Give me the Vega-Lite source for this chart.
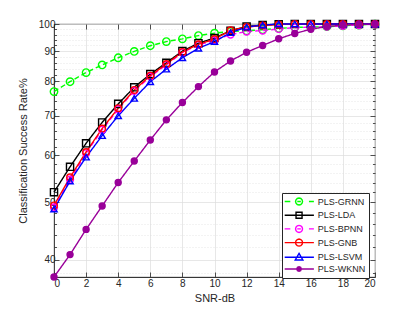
{
  "$schema": "https://vega.github.io/schema/vega-lite/v6.json",
  "width": 321,
  "height": 253,
  "autosize": "none",
  "padding": {"left": 54, "top": 24, "right": 40, "bottom": 35},
  "background": "white",
  "config": {
    "font": "Liberation Sans",
    "view": {"stroke": "#262626", "strokeWidth": 0.8},
    "axis": {
      "labelFont": "Liberation Sans",
      "titleFont": "Liberation Sans",
      "labelFontSize": 10,
      "titleFontSize": 11,
      "titleFontWeight": "normal",
      "labelColor": "#262626",
      "titleColor": "#262626",
      "tickColor": "#262626",
      "domainColor": "#262626",
      "gridColor": "#dcdcdc",
      "gridWidth": 0.7,
      "domainWidth": 0.8,
      "tickWidth": 0.8
    },
    "legend": {
      "labelFont": "Liberation Sans",
      "labelFontSize": 9,
      "labelColor": "#262626",
      "orient": "none", "legendX": 228, "legendY": 169,
      "symbolOpacity": 1, "symbolStrokeWidth": 1.4, "symbolSize": 81,
      "strokeColor": "#262626", "fillColor": "white", "padding": 3,
      "rowPadding": 0.7, "labelOffset": 21.7
    }
  },
  "data": {
    "values": [
      {"snr":0,"series":"PLS-GRNN","rate":76.9},{"snr":1,"series":"PLS-GRNN","rate":79.9},{"snr":2,"series":"PLS-GRNN","rate":82.8},{"snr":3,"series":"PLS-GRNN","rate":85.3},{"snr":4,"series":"PLS-GRNN","rate":87.7},{"snr":5,"series":"PLS-GRNN","rate":89.9},{"snr":6,"series":"PLS-GRNN","rate":91.9},{"snr":7,"series":"PLS-GRNN","rate":93.4},{"snr":8,"series":"PLS-GRNN","rate":94.4},{"snr":9,"series":"PLS-GRNN","rate":95.6},{"snr":10,"series":"PLS-GRNN","rate":96.5},{"snr":11,"series":"PLS-GRNN","rate":97.1},{"snr":12,"series":"PLS-GRNN","rate":97.4},{"snr":13,"series":"PLS-GRNN","rate":97.8},{"snr":14,"series":"PLS-GRNN","rate":98.3},{"snr":15,"series":"PLS-GRNN","rate":98.7},{"snr":16,"series":"PLS-GRNN","rate":98.8},{"snr":17,"series":"PLS-GRNN","rate":99.0},{"snr":18,"series":"PLS-GRNN","rate":99.3},{"snr":19,"series":"PLS-GRNN","rate":99.6},{"snr":20,"series":"PLS-GRNN","rate":99.9},
      {"snr":0,"series":"PLS-LDA","rate":52.0},{"snr":1,"series":"PLS-LDA","rate":57.4},{"snr":2,"series":"PLS-LDA","rate":62.9},{"snr":3,"series":"PLS-LDA","rate":68.2},{"snr":4,"series":"PLS-LDA","rate":73.3},{"snr":5,"series":"PLS-LDA","rate":78.2},{"snr":6,"series":"PLS-LDA","rate":82.3},{"snr":7,"series":"PLS-LDA","rate":86.0},{"snr":8,"series":"PLS-LDA","rate":90.0},{"snr":9,"series":"PLS-LDA","rate":92.8},{"snr":10,"series":"PLS-LDA","rate":94.7},{"snr":11,"series":"PLS-LDA","rate":97.4},{"snr":12,"series":"PLS-LDA","rate":99.0},{"snr":13,"series":"PLS-LDA","rate":99.6},{"snr":14,"series":"PLS-LDA","rate":99.9},{"snr":15,"series":"PLS-LDA","rate":100},{"snr":16,"series":"PLS-LDA","rate":100},{"snr":17,"series":"PLS-LDA","rate":100},{"snr":18,"series":"PLS-LDA","rate":100},{"snr":19,"series":"PLS-LDA","rate":100},{"snr":20,"series":"PLS-LDA","rate":100},
      {"snr":0,"series":"PLS-BPNN","rate":49.0},{"snr":1,"series":"PLS-BPNN","rate":54.6},{"snr":2,"series":"PLS-BPNN","rate":60.5},{"snr":3,"series":"PLS-BPNN","rate":66.3},{"snr":4,"series":"PLS-BPNN","rate":71.8},{"snr":5,"series":"PLS-BPNN","rate":77.1},{"snr":6,"series":"PLS-BPNN","rate":81.5},{"snr":7,"series":"PLS-BPNN","rate":85.3},{"snr":8,"series":"PLS-BPNN","rate":89.5},{"snr":9,"series":"PLS-BPNN","rate":92.2},{"snr":10,"series":"PLS-BPNN","rate":93.8},{"snr":11,"series":"PLS-BPNN","rate":96.0},{"snr":12,"series":"PLS-BPNN","rate":97.1},{"snr":13,"series":"PLS-BPNN","rate":97.5},{"snr":14,"series":"PLS-BPNN","rate":98.1},{"snr":15,"series":"PLS-BPNN","rate":98.6},{"snr":16,"series":"PLS-BPNN","rate":98.8},{"snr":17,"series":"PLS-BPNN","rate":99.0},{"snr":18,"series":"PLS-BPNN","rate":99.3},{"snr":19,"series":"PLS-BPNN","rate":99.6},{"snr":20,"series":"PLS-BPNN","rate":99.9},
      {"snr":0,"series":"PLS-GNB","rate":49.4},{"snr":1,"series":"PLS-GNB","rate":55.1},{"snr":2,"series":"PLS-GNB","rate":60.8},{"snr":3,"series":"PLS-GNB","rate":66.6},{"snr":4,"series":"PLS-GNB","rate":72.1},{"snr":5,"series":"PLS-GNB","rate":77.4},{"snr":6,"series":"PLS-GNB","rate":81.8},{"snr":7,"series":"PLS-GNB","rate":85.6},{"snr":8,"series":"PLS-GNB","rate":89.7},{"snr":9,"series":"PLS-GNB","rate":92.4},{"snr":10,"series":"PLS-GNB","rate":94.3},{"snr":11,"series":"PLS-GNB","rate":97.6},{"snr":12,"series":"PLS-GNB","rate":98.8},{"snr":13,"series":"PLS-GNB","rate":99.4},{"snr":14,"series":"PLS-GNB","rate":99.8},{"snr":15,"series":"PLS-GNB","rate":100},{"snr":16,"series":"PLS-GNB","rate":100},{"snr":17,"series":"PLS-GNB","rate":100},{"snr":18,"series":"PLS-GNB","rate":100},{"snr":19,"series":"PLS-GNB","rate":100},{"snr":20,"series":"PLS-GNB","rate":100},
      {"snr":0,"series":"PLS-LSVM","rate":48.7},{"snr":1,"series":"PLS-LSVM","rate":54.3},{"snr":2,"series":"PLS-LSVM","rate":59.6},{"snr":3,"series":"PLS-LSVM","rate":64.8},{"snr":4,"series":"PLS-LSVM","rate":70.0},{"snr":5,"series":"PLS-LSVM","rate":74.9},{"snr":6,"series":"PLS-LSVM","rate":79.9},{"snr":7,"series":"PLS-LSVM","rate":83.9},{"snr":8,"series":"PLS-LSVM","rate":87.7},{"snr":9,"series":"PLS-LSVM","rate":91.0},{"snr":10,"series":"PLS-LSVM","rate":93.4},{"snr":11,"series":"PLS-LSVM","rate":96.7},{"snr":12,"series":"PLS-LSVM","rate":98.8},{"snr":13,"series":"PLS-LSVM","rate":99.6},{"snr":14,"series":"PLS-LSVM","rate":100},{"snr":15,"series":"PLS-LSVM","rate":100},{"snr":16,"series":"PLS-LSVM","rate":100},{"snr":17,"series":"PLS-LSVM","rate":100},{"snr":18,"series":"PLS-LSVM","rate":100},{"snr":19,"series":"PLS-LSVM","rate":100},{"snr":20,"series":"PLS-LSVM","rate":100},
      {"snr":0,"series":"PLS-WKNN","rate":37.4},{"snr":1,"series":"PLS-WKNN","rate":40.8},{"snr":2,"series":"PLS-WKNN","rate":45.0},{"snr":3,"series":"PLS-WKNN","rate":49.3},{"snr":4,"series":"PLS-WKNN","rate":54.0},{"snr":5,"series":"PLS-WKNN","rate":58.7},{"snr":6,"series":"PLS-WKNN","rate":63.7},{"snr":7,"series":"PLS-WKNN","rate":68.9},{"snr":8,"series":"PLS-WKNN","rate":73.7},{"snr":9,"series":"PLS-WKNN","rate":78.4},{"snr":10,"series":"PLS-WKNN","rate":83.0},{"snr":11,"series":"PLS-WKNN","rate":86.6},{"snr":12,"series":"PLS-WKNN","rate":89.6},{"snr":13,"series":"PLS-WKNN","rate":92.0},{"snr":14,"series":"PLS-WKNN","rate":94.4},{"snr":15,"series":"PLS-WKNN","rate":96.4},{"snr":16,"series":"PLS-WKNN","rate":98.0},{"snr":17,"series":"PLS-WKNN","rate":99.0},{"snr":18,"series":"PLS-WKNN","rate":99.6},{"snr":19,"series":"PLS-WKNN","rate":99.9},{"snr":20,"series":"PLS-WKNN","rate":100}
    ]
  },
  "layer": [
    {
      "mark": {"type": "line", "strokeWidth": 1.4},
      "encoding": {
        "x": {"field": "snr", "type": "quantitative",
          "scale": {"domain": [0, 20], "nice": false},
          "axis": {"title": "SNR-dB", "values": [0,2,4,6,8,10,12,14,16,18,20], "tickSize": -5, "labelPadding": 6, "titlePadding": 4, "grid": true}},
        "y": {"field": "rate", "type": "quantitative",
          "scale": {"type": "log", "domain": [37.4, 100], "nice": false, "zero": false},
          "axis": {"title": "Classification Success Rate%",
            "values": [38,40,42,44,46,48,50,52,54,56,58,60,62,64,66,68,70,72,74,76,78,80,82,84,86,88,90,92,94,96,98,100],
            "labelExpr": "datum.value % 10 === 0 ? datum.label : ''",
            "grid": true,
            "gridDash": {"condition": {"test": "datum.value % 10 === 0", "value": []}, "value": [1, 2]},
            "tickSize": {"condition": {"test": "datum.value % 10 === 0", "value": -5}, "value": -2.5},
            "labelPadding": 4, "titlePadding": 10}},
        "color": {"field": "series", "type": "nominal",
          "scale": {"domain": ["PLS-GRNN","PLS-LDA","PLS-BPNN","PLS-GNB","PLS-LSVM","PLS-WKNN"], "range": ["#00ff00","#000000","#ff00ff","#ff0000","#0000ff","#990099"]},
          "legend": null},
        "strokeDash": {"field": "series", "type": "nominal",
          "scale": {"domain": ["PLS-GRNN","PLS-LDA","PLS-BPNN","PLS-GNB","PLS-LSVM","PLS-WKNN"], "range": [[5,3],[1,0],[5,3],[1,0],[1,0],[1,0]]},
          "legend": null}
      }
    },
    {
      "mark": {"type": "point", "filled": false, "strokeWidth": 1.4, "opacity": 1},
      "encoding": {
        "x": {"field": "snr", "type": "quantitative", "axis": null},
        "y": {"field": "rate", "type": "quantitative", "axis": null},
        "color": {"field": "series", "type": "nominal",
          "scale": {"domain": ["PLS-GRNN","PLS-LDA","PLS-BPNN","PLS-GNB","PLS-LSVM","PLS-WKNN"], "range": ["#00ff00","#000000","#ff00ff","#ff0000","#0000ff","#990099"]},
          "legend": null},
        "shape": {"field": "series", "type": "nominal",
          "scale": {"domain": ["PLS-GRNN","PLS-LDA","PLS-BPNN","PLS-GNB","PLS-LSVM","PLS-WKNN"], "range": ["circle","square","circle","circle","triangle-up","circle"]},
          "legend": null},
        "size": {"field": "series", "type": "nominal",
          "scale": {"domain": ["PLS-GRNN","PLS-LDA","PLS-BPNN","PLS-GNB","PLS-LSVM","PLS-WKNN"], "range": [55,36,55,49,50,22]},
          "legend": null},
        "fill": {"condition": {"test": "datum.series === 'PLS-WKNN'", "value": "#990099"}, "value": "transparent"}
      }
    },
    {
      "mark": {"type": "point", "filled": false, "opacity": 0},
      "encoding": {
        "x": {"field": "snr", "type": "quantitative",
          "axis": {"orient": "top", "title": null, "labels": false, "domain": false, "grid": false, "values": [0,2,4,6,8,10,12,14,16,18,20], "tickSize": -5}},
        "y": {"field": "rate", "type": "quantitative",
          "axis": {"orient": "right", "title": null, "labels": false, "domain": false, "grid": false,
            "values": [38,40,42,44,46,48,50,52,54,56,58,60,62,64,66,68,70,72,74,76,78,80,82,84,86,88,90,92,94,96,98,100],
            "tickSize": {"condition": {"test": "datum.value % 10 === 0", "value": -5}, "value": -2.5}}},
        "color": {"field": "series", "type": "nominal", "title": null,
          "scale": {"domain": ["PLS-GRNN","PLS-LDA","PLS-BPNN","PLS-GNB","PLS-LSVM","PLS-WKNN"], "range": ["#00ff00","#000000","#ff00ff","#ff0000","#0000ff","#990099"]},
          "legend": {"title": null}},
        "fill": {"field": "series", "type": "nominal", "title": null,
          "scale": {"domain": ["PLS-GRNN","PLS-LDA","PLS-BPNN","PLS-GNB","PLS-LSVM","PLS-WKNN"], "range": ["transparent","transparent","transparent","transparent","transparent","#990099"]},
          "legend": {"title": null}},
        "shape": {"field": "series", "type": "nominal", "title": null,
          "scale": {"domain": ["PLS-GRNN","PLS-LDA","PLS-BPNN","PLS-GNB","PLS-LSVM","PLS-WKNN"],
            "range": [
              "M-1.29,0H-0.04M1.5,0H2.3M4.1,0H5.2M2.68,0L2.575,0.39L2.29,0.675L1.9,0.78L1.51,0.675L1.225,0.39L1.12,0L1.225,-0.39L1.51,-0.675L1.9,-0.78L2.29,-0.675L2.575,-0.39Z",
              "M-1.29,0H5.2M1.23,-0.67H2.57V0.67H1.23Z",
              "M-1.29,0H-0.04M1.5,0H2.3M4.1,0H5.2M2.68,0L2.575,0.39L2.29,0.675L1.9,0.78L1.51,0.675L1.225,0.39L1.12,0L1.225,-0.39L1.51,-0.675L1.9,-0.78L2.29,-0.675L2.575,-0.39Z",
              "M-1.29,0H5.2M2.68,0L2.575,0.39L2.29,0.675L1.9,0.78L1.51,0.675L1.225,0.39L1.12,0L1.225,-0.39L1.51,-0.675L1.9,-0.78L2.29,-0.675L2.575,-0.39Z",
              "M-1.29,0H5.2M1.9,-0.85L2.75,0.6L1.05,0.6Z",
              "M-1.29,0H5.2M2.4,0L2.254,0.354L1.9,0.5L1.546,0.354L1.4,0L1.546,-0.354L1.9,-0.5L2.254,-0.354Z"
            ]},
          "legend": {"title": null}}
      }
    }
  ],
  "resolve": {
    "axis": {"x": "independent", "y": "independent"},
    "scale": {"color": "independent", "shape": "independent", "fill": "independent"}
  }
}
